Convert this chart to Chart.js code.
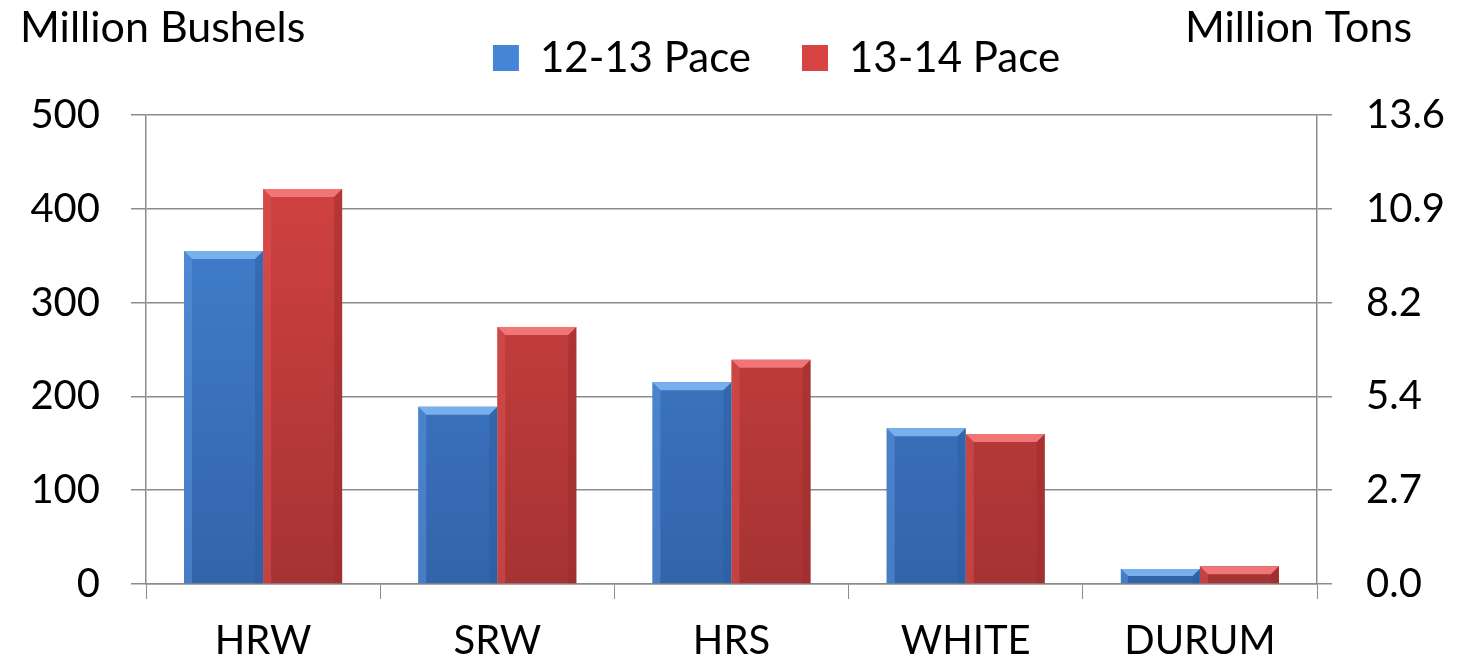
<!DOCTYPE html>
<html>
<head>
<meta charset="utf-8">
<script src="https://cdn.jsdelivr.net/npm/chart.js@4"></script>
<style>
  html, body { margin: 0; padding: 0; background: #fff; }
  #wrap { width: 1462px; height: 666px; }
</style>
</head>
<body>
<div id="wrap"><canvas id="wheatChart" width="1462" height="666"></canvas></div>
<script>
// data
const categories = ['HRW', 'SRW', 'HRS', 'WHITE', 'DURUM'];
const pace1213 = [355, 189, 215, 166, 16];
const pace1314 = [421, 274, 239, 160, 19];
const bushelTicks = ['0', '100', '200', '300', '400', '500'];
const tonTicks = ['0.0', '2.7', '5.4', '8.2', '10.9', '13.6'];

const FONT = 'Lato, "Open Sans", sans-serif';
const GRID = '#8c8c8c';

function barFill(top, bottom) {
    return function(ctx) {
        const area = ctx.chart.chartArea;
        if (!area || ctx.type !== 'data') return top;
        const g = ctx.chart.ctx.createLinearGradient(0, area.top, 0, area.bottom);
        g.addColorStop(0, top);
        g.addColorStop(1, bottom);
        return g;
    };
}

// light top bevel + darker sides, like the office 3d bars
const bevelPlugin = {
    id: 'bevel',
    afterDatasetsDraw(chart) {
        const c = chart.ctx;
        const shades = [
            { top: '#78b0ee', left: '#5b96df', right: '#2c5c9f' },
            { top: '#f07676', left: '#dd5252', right: '#9b2c2c' }
        ];
        chart.data.datasets.forEach((ds, i) => {
            const meta = chart.getDatasetMeta(i);
            meta.data.forEach(bar => {
                const l = bar.x - bar.width / 2, r = bar.x + bar.width / 2;
                const t = bar.y, b = bar.base;
                const bv = Math.min(8, (b - t) / 2);
                c.save();
                c.fillStyle = shades[i].top;
                c.beginPath();
                c.moveTo(l, t); c.lineTo(r, t); c.lineTo(r - bv, t + bv); c.lineTo(l + bv, t + bv);
                c.closePath(); c.fill();
                c.globalAlpha = 0.5;
                c.fillStyle = shades[i].left;
                c.beginPath();
                c.moveTo(l, t); c.lineTo(l + bv, t + bv); c.lineTo(l + bv, b); c.lineTo(l, b);
                c.closePath(); c.fill();
                c.fillStyle = shades[i].right;
                c.beginPath();
                c.moveTo(r, t); c.lineTo(r - bv, t + bv); c.lineTo(r - bv, b); c.lineTo(r, b);
                c.closePath(); c.fill();
                c.restore();
            });
        });
    }
};

// the two unit captions above the axes
const captionPlugin = {
    id: 'captions',
    afterDraw(chart) {
        const c = chart.ctx;
        c.save();
        c.font = '43px ' + FONT;
        c.fillStyle = '#000';
        c.textBaseline = 'middle';
        c.textAlign = 'left';
        c.fillText('Million Bushels', 20, 28);
        c.textAlign = 'right';
        c.fillText('Million Tons', 1412, 28);
        c.restore();
    }
};

// legend block is 115px tall, sitting a bit right of centre
const legendBox = {
    id: 'legendBox',
    beforeInit(chart) {
        const fit = chart.legend.fit;
        chart.legend.fit = function() {
            fit.bind(chart.legend)();
            this.height = 115;
        };
    },
    beforeDraw(chart) {
        chart.legend.left = 91;
        chart.legend.top = -14;
    }
};

new Chart(document.getElementById('wheatChart'), {
    type: 'bar',
    data: {
        labels: categories,
        datasets: [
            {
                label: '12-13 Pace',
                data: pace1213,
                backgroundColor: barFill('#4585d6', '#3264aa'),
                yAxisID: 'y'
            },
            {
                label: '13-14 Pace',
                data: pace1314,
                backgroundColor: barFill('#d84444', '#a63333'),
                yAxisID: 'y'
            }
        ]
    },
    options: {
        responsive: false,
        animation: false,
        layout: { padding: 0 },
        datasets: {
            bar: { categoryPercentage: 0.675, barPercentage: 1.0 }
        },
        plugins: {
            tooltip: { enabled: false },
            legend: {
                position: 'top',
                labels: {
                    boxWidth: 26,
                    boxHeight: 26,
                    padding: 51,
                    color: '#000',
                    font: { family: FONT, size: 42, lineHeight: 0.2 }
                }
            }
        },
        scales: {
            x: {
                grid: { drawOnChartArea: false, tickLength: 15, color: GRID, offset: true },
                border: { color: GRID, width: 1.5 },
                ticks: { color: '#000', padding: 18, font: { family: FONT, size: 40 } },
                afterFit(scale) { scale.height = 82; }
            },
            y: {
                position: 'left',
                min: 0, max: 500,
                ticks: {
                    stepSize: 100,
                    color: '#000',
                    padding: 31,
                    font: { family: FONT, size: 40 },
                    callback: (v, i) => bushelTicks[i]
                },
                grid: { color: GRID, lineWidth: 1.5, tickLength: 15 },
                border: { color: GRID, width: 1.5 },
                afterFit(scale) { scale.width = 146; }
            },
            y2: {
                position: 'right',
                min: 0, max: 500,
                ticks: {
                    stepSize: 100,
                    color: '#000',
                    padding: 34,
                    font: { family: FONT, size: 40 },
                    callback: (v, i) => tonTicks[i]
                },
                grid: { drawOnChartArea: false, color: GRID, lineWidth: 1.5, tickLength: 15 },
                border: { color: GRID, width: 1.5 },
                afterFit(scale) { scale.width = 145; }
            }
        }
    },
    plugins: [legendBox, bevelPlugin, captionPlugin]
});
</script>
</body>
</html>
